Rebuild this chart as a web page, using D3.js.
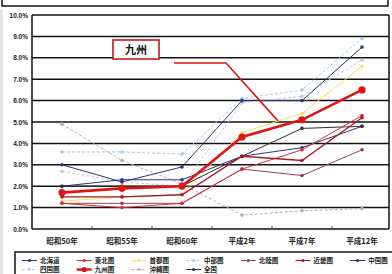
<!DOCTYPE html>
<html>
<head>
<meta charset="utf-8">
<script src="https://cdn.jsdelivr.net/npm/d3@7"></script>
<style>
body { margin: 0; background: #fff; }
text { font-family: "Noto Sans CJK JP", "Liberation Sans", sans-serif; font-weight: bold; }
</style>
</head>
<body>
<script>
var width = 392;
var height = 274;
var margin = {top: 15, right: 3, bottom: 45, left: 32};

// x categories and y ticks
var years = ["昭和50年", "昭和55年", "昭和60年", "平成2年", "平成7年", "平成12年"];
var yTicks = [0, 1, 2, 3, 4, 5, 6, 7, 8, 9, 10];

// series (percent)
var regions = ["北海道", "東北圏", "首都圏", "中部圏", "北陸圏", "近畿圏", "中国圏", "四国圏", "九州圏", "沖縄圏", "全国"];
var hokkaido = [2.0, 2.3, 2.3, 3.4, 3.8, 4.8];
var tohoku   = [1.2, 1.0, 1.2, 2.8, 3.7, 5.3];
var shutoken = [1.3, 1.5, 1.6, 4.5, 5.4, 7.6];
var chubu    = [3.6, 3.6, 3.5, 6.1, 6.5, 8.9];
var hokuriku = [1.2, 1.2, 1.2, 2.8, 2.5, 3.7];
var kinki    = [1.5, 1.5, 1.6, 3.4, 3.2, 5.2];
var chugoku  = [3.0, 2.2, 2.9, 6.0, 6.0, 8.5];
var shikoku  = [2.7, 2.2, 2.0, 5.9, 6.2, 7.9];
var kyushu   = [1.7, 1.9, 2.0, 4.3, 5.1, 6.5];
var okinawa  = [4.9, 3.2, 2.1, 0.65, 0.85, 0.95];
var zenkoku  = [2.0, 2.0, 2.0, 3.4, 4.7, 4.8];
var values = [hokkaido, tohoku, shutoken, chubu, hokuriku, kinki, chugoku, shikoku, kyushu, okinawa, zenkoku];

var colors = ["#2a3680", "#d4303a", "#f0e25a", "#a8cce2", "#94405a", "#a8182a", "#2c3a74", "#c0ccd8", "#e01414", "#b0b0b0", "#333333"];
var dashes = [null, null, null, "3,2", null, null, null, "3,2", null, "3,2", null];

var svg = d3.select("body").append("svg")
    .attr("width", width)
    .attr("height", height);

// frame of the box above, cut off
svg.append("rect")
    .attr("x", 2).attr("y", -10)
    .attr("width", 386).attr("height", 16)
    .attr("fill", "none").attr("stroke", "#111").attr("stroke-width", 1.5);

svg.append("rect")
    .attr("x", 0).attr("y", 10)
    .attr("width", 3).attr("height", 264)
    .attr("fill", "#e4e4e4");

var x = d3.scaleBand()
    .domain(years)
    .range([margin.left, width])
    .padding(0);

var y = d3.scaleLinear()
    .domain([0, 10])
    .range([height - margin.bottom, margin.top]);

var cx = function(i) { return x(years[i]) + x.bandwidth() / 2; };

// gridlines
svg.append("g")
  .selectAll("line")
  .data(yTicks)
  .enter().append("line")
    .attr("x1", margin.left)
    .attr("x2", width - margin.right)
    .attr("y1", function(d) { return y(d); })
    .attr("y2", function(d) { return y(d); })
    .attr("stroke", "#111")
    .attr("stroke-width", 1.5);

// plot border
svg.append("line")
    .attr("x1", margin.left).attr("x2", margin.left)
    .attr("y1", y(10)).attr("y2", y(0))
    .attr("stroke", "#111").attr("stroke-width", 1.5);
svg.append("line")
    .attr("x1", width - margin.right).attr("x2", width - margin.right)
    .attr("y1", y(10)).attr("y2", y(0))
    .attr("stroke", "#111").attr("stroke-width", 1.5);

// y axis labels
var yAxis = d3.axisLeft(y)
    .tickValues(yTicks)
    .tickSize(0)
    .tickPadding(4)
    .tickFormat(function(d) { return d.toFixed(1) + "%"; });

var gy = svg.append("g")
    .attr("transform", "translate(" + margin.left + ",0)")
    .call(yAxis);
gy.select(".domain").remove();
gy.selectAll("text")
    .style("font-family", "'Liberation Sans', sans-serif")
    .style("font-size", "6.5px")
    .attr("fill", "#222");

// x axis, ticks at the band edges
var xAxis = d3.axisBottom(x)
    .tickSize(0)
    .tickPadding(10);
var gx = svg.append("g")
    .attr("transform", "translate(0," + y(0) + ")")
    .call(xAxis);
gx.select(".domain").remove();
gx.selectAll("text")
    .style("font-size", "7.5px")
    .attr("fill", "#222");

svg.append("g")
  .selectAll("line")
  .data(years.slice(1))
  .enter().append("line")
    .attr("x1", function(d) { return x(d); })
    .attr("x2", function(d) { return x(d); })
    .attr("y1", y(0))
    .attr("y2", y(0) - 3)
    .attr("stroke", "#333");

// draw the series, kyushu last so it sits on top
var order = [9, 7, 3, 2, 6, 0, 10, 4, 1, 5, 8];
var line = d3.line()
    .x(function(d, i) { return cx(i); })
    .y(function(d) { return y(d); });

order.forEach(function(k) {
  var thick = (k == 8);
  svg.append("path")
      .datum(values[k])
      .attr("d", line)
      .attr("fill", "none")
      .attr("stroke", colors[k])
      .attr("stroke-width", thick ? 2.6 : (k == 5 ? 1.3 : 1))
      .attr("stroke-dasharray", dashes[k]);
  svg.append("g")
    .selectAll("circle")
    .data(values[k])
    .enter().append("circle")
      .attr("cx", function(d, i) { return cx(i); })
      .attr("cy", function(d) { return y(d); })
      .attr("r", thick ? 3.6 : 1.8)
      .attr("fill", colors[k]);
});

// callout for kyushu
svg.append("polyline")
    .attr("points", [[174, 63], [226, 63], [cx(4) - 24, y(kyushu[4]) + 1]].join(" "))
    .attr("fill", "none")
    .attr("stroke", "#d81818")
    .attr("stroke-width", 1.6);
svg.append("rect")
    .attr("x", 113).attr("y", 40)
    .attr("width", 46).attr("height", 19)
    .attr("fill", "#fff")
    .attr("stroke", "#c8141e")
    .attr("stroke-width", 1.6);
svg.append("text")
    .attr("x", 136).attr("y", 54)
    .attr("text-anchor", "middle")
    .style("font-size", "11px")
    .attr("fill", "#111")
    .text("九州");

// legend
var legend = svg.append("g");
legend.append("rect")
    .attr("x", 15).attr("y", 252)
    .attr("width", 385).attr("height", 30)
    .attr("fill", "#fff")
    .attr("stroke", "#111")
    .attr("stroke-width", 1.5);

var item = legend.selectAll(".item")
    .data(regions)
    .enter().append("g")
    .attr("transform", function(d, i) {
      var col = i < 7 ? i : i - 7;
      var row = i < 7 ? 0 : 1;
      return "translate(" + (22 + col * 54.7) + "," + (260.5 + row * 9) + ")";
    });

item.append("line")
    .attr("x1", 0).attr("x2", 15)
    .attr("stroke", function(d, i) { return colors[i]; })
    .attr("stroke-width", function(d, i) { return i == 8 ? 2.4 : 1; })
    .attr("stroke-dasharray", function(d, i) { return dashes[i]; });
item.append("circle")
    .attr("cx", 7.5)
    .attr("r", function(d, i) { return i == 8 ? 2.6 : 1.6; })
    .attr("fill", function(d, i) { return colors[i]; });
item.append("text")
    .attr("x", 18)
    .attr("dy", "0.35em")
    .style("font-size", "6.5px")
    .attr("fill", "#222")
    .text(function(d) { return d; });
</script>
</body>
</html>
